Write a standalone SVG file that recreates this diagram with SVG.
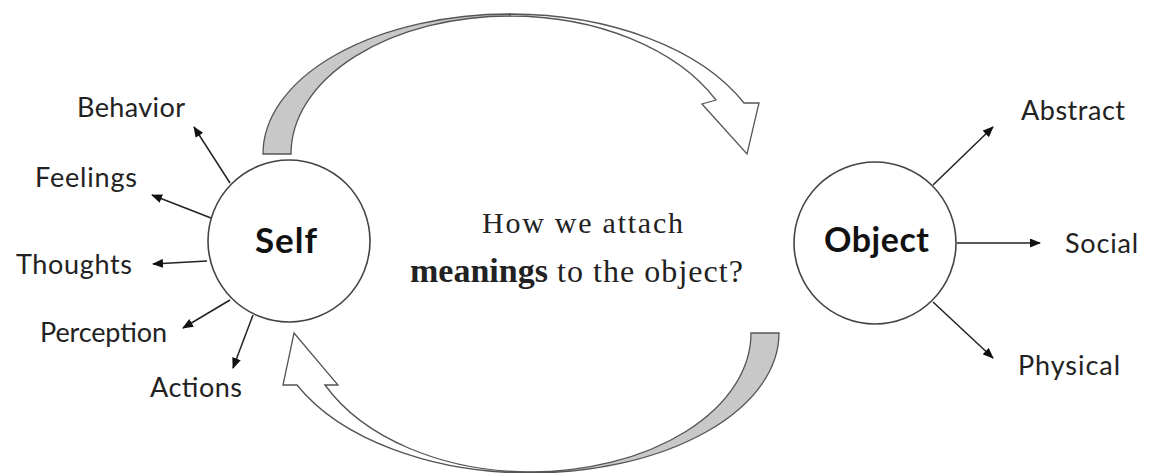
<svg xmlns="http://www.w3.org/2000/svg" width="1152" height="473" viewBox="0 0 1152 473">
<style>
.bg{fill:#ffffff}
.node{fill:#ffffff;stroke:#444444;stroke-width:1.6}
.band{stroke:#555555;stroke-width:1.3;stroke-linejoin:miter}
.gray{fill:#c8c8c8}
.white{fill:#ffffff}
.lbl{font-family:Lato,"Liberation Sans",sans-serif;font-size:27px;fill:#222222}
.big{font-family:Lato,"Liberation Sans",sans-serif;font-weight:bold;fill:#111111}
.serif{font-family:"Liberation Serif","DejaVu Serif",serif;fill:#222222}
.conn{stroke:#222222;stroke-width:1.5;fill:none;marker-end:url(#ah)}
</style>
<defs>
<marker id="ah" markerUnits="userSpaceOnUse" markerWidth="11" markerHeight="9" refX="10" refY="4.5" orient="auto">
<path d="M0,0 L11,4.5 L0,9 Z" fill="#111111"/>
</marker>
</defs>
<rect class="bg" x="0" y="0" width="1152" height="473"/>
<g id="cycle">
<path id="top-tail" class="band gray" d="M263,154 A247,140 0 0 1 510,14 L510,16 A219,138 0 0 0 291,154 Z"/>
<path id="top-arrow" class="band white" d="M510,14 A259,156 0 0 1 744,103 L759,103 L747,154 L702,104 L716,100 A231,154 0 0 0 510,16 Z"/>
<path id="bottom-tail" class="band gray" d="M779,333 A249,140 0 0 1 530,473 L530,472 A221,139 0 0 0 751,333 Z"/>
<path id="bottom-arrow" class="band white" d="M530,473 A259,156 0 0 1 297,385 L283,385 L294,333 L338,385 L325,385 A229.6,155 0 0 0 530,472 Z"/>
</g>
<g id="connectors">
<line class="conn" x1="230" y1="183" x2="194" y2="127"/>
<line class="conn" x1="211" y1="218" x2="152" y2="195"/>
<line class="conn" x1="207" y1="261" x2="153" y2="264"/>
<line class="conn" x1="230" y1="300" x2="183" y2="328"/>
<line class="conn" x1="253" y1="315" x2="233" y2="368"/>
<line class="conn" x1="933" y1="185" x2="993" y2="127"/>
<line class="conn" x1="957" y1="243" x2="1040" y2="243"/>
<line class="conn" x1="933" y1="302" x2="993" y2="358"/>
</g>
<g id="self">
<circle class="node" cx="289" cy="241" r="81"/>
<text class="big" x="255" y="253" font-size="35" textLength="62">Self</text>
</g>
<g id="object">
<circle class="node" cx="875" cy="243" r="81"/>
<text class="big" x="824" y="252" font-size="34" textLength="105">Object</text>
</g>
<g id="question">
<text class="serif" x="482" y="233" font-size="30" textLength="201">How  we attach</text>
<text class="serif" y="282"><tspan x="410" font-size="34" font-weight="bold" textLength="138">meanings</tspan><tspan x="557" font-size="32" textLength="186">to the object?</tspan></text>
</g>
<g id="behavior"><text class="lbl" x="77" y="117" textLength="108">Behavior</text></g>
<g id="feelings"><text class="lbl" x="35" y="187" textLength="102">Feelings</text></g>
<g id="thoughts"><text class="lbl" x="16" y="274" textLength="116">Thoughts</text></g>
<g id="perception"><text class="lbl" x="40" y="342" textLength="127">Perception</text></g>
<g id="actions"><text class="lbl" x="150" y="397" textLength="92">Actions</text></g>
<g id="abstract"><text class="lbl" x="1021" y="120" textLength="104">Abstract</text></g>
<g id="social"><text class="lbl" x="1065" y="253" textLength="73">Social</text></g>
<g id="physical"><text class="lbl" x="1018" y="375" textLength="102">Physical</text></g>
</svg>
